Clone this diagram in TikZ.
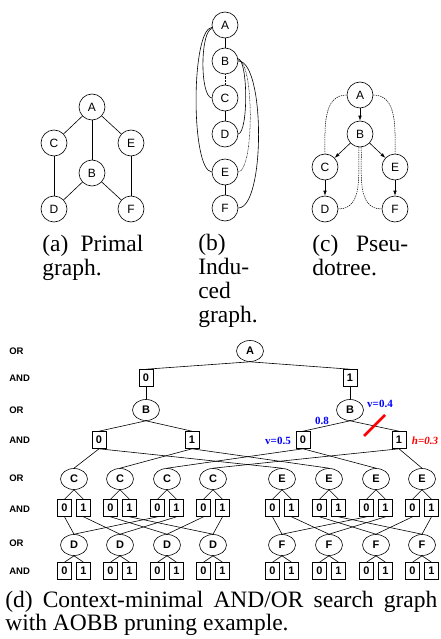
\documentclass[tikz,border=0pt]{standalone}
\usepackage{fontspec}
\setmainfont{Liberation Serif}
\setsansfont{Liberation Sans}
\usetikzlibrary{arrows.meta,shapes.geometric}
\begin{document}
\begin{tikzpicture}[x=1pt,y=-1pt,line width=0.6pt,
  pnode/.style={draw,circle,minimum size=26pt,inner sep=0pt,fill=white,
    font=\sffamily\fontsize{12}{12}\selectfont},
  ornode/.style={draw,ellipse,minimum width=27pt,minimum height=21pt,inner sep=0pt,fill=white,
    font=\sffamily\bfseries\fontsize{11}{11}\selectfont},
  andnode/.style={draw,rectangle,minimum width=14pt,minimum height=17pt,inner sep=0pt,fill=white,
    font=\sffamily\bfseries\fontsize{11}{11}\selectfont},
  lvl/.style={anchor=west,inner sep=0pt,font=\sffamily\bfseries\fontsize{9.5}{9.5}\selectfont},
  captext/.style={anchor=base west,inner sep=0pt,font=\fontsize{23.5}{24}\selectfont},
  treearrow/.style={-{Latex[length=5pt,width=3.5pt]}},
  backedge/.style={dash pattern=on 1.4pt off 0.9pt,line width=0.5pt},
  dotedge/.style={dash pattern=on 0.7pt off 0.7pt,line width=0.5pt},
  vlab/.style={inner sep=0pt,text=blue,font=\bfseries\fontsize{11}{11}\selectfont},
  hlab/.style={inner sep=0pt,text=red,font=\bfseries\itshape\fontsize{11}{11}\selectfont},
]
\useasboundingbox (0,0) rectangle (440,639);

% ---------- (a) primal graph ----------
\node[pnode] (pA) at (92,107) {A};
\node[pnode] (pC) at (54,143) {C};
\node[pnode] (pE) at (131,143) {E};
\node[pnode] (pB) at (92,173) {B};
\node[pnode] (pD) at (54,209) {D};
\node[pnode] (pF) at (131,209) {F};
\draw (pA) -- (pC);
\draw (pA) -- (pE);
\draw (pA) -- (pB);
\draw (pC) -- (pD);
\draw (pB) -- (pD);
\draw (pB) -- (pF);
\draw (pE) -- (pF);
\node[captext] (capa1) at (42,251) {\makebox[101pt][s]{(a) Primal}};
\node[captext] (capa2) at (42,275) {graph.};

% ---------- (b) induced graph ----------
\node[pnode] (iA) at (225,25) {A};
\node[pnode] (iB) at (225,61) {B};
\node[pnode] (iC) at (225,98) {C};
\node[pnode] (iD) at (225,134) {D};
\node[pnode] (iE) at (225,172) {E};
\node[pnode] (iF) at (225,208) {F};
\draw (iA) -- (iB);
\draw[dotedge] (iB) -- (iC);
\draw (iC) -- (iD);
\draw (iE) -- (iF);
\draw (iA.195) .. controls +(-12,2) and +(-12,-2) .. (iC.180);
\draw (iA.190) .. controls +(-21,2) and +(-21,-2) .. (iE.180);
\draw (iB.10) .. controls +(10,2) and +(10,-2) .. (iD.0);
\draw[dotedge] (iB.5) .. controls +(16,2) and +(16,-2) .. (iE.0);
\draw (iB.0) .. controls +(27,0) and +(27,0) .. (iF.0);
\node[captext] (capb1) at (198,250) {(b)};
\node[captext] (capb2) at (198,274) {Indu-};
\node[captext] (capb3) at (198,298) {ced};
\node[captext] (capb4) at (198,322) {graph.};

% ---------- (c) pseudo tree ----------
\node[pnode] (tA) at (360,95) {A};
\node[pnode] (tB) at (360,134) {B};
\node[pnode] (tC) at (325,167) {C};
\node[pnode] (tE) at (395,167) {E};
\node[pnode] (tD) at (325,209) {D};
\node[pnode] (tF) at (395,209) {F};
\draw[treearrow] (tA) -- (tB);
\draw[treearrow] (tB) -- (tC);
\draw[treearrow] (tB) -- (tE);
\draw[treearrow] (tC) -- (tD);
\draw[treearrow] (tE) -- (tF);
\draw[backedge] (tA.west) to[out=180,in=90] (tC.north);
\draw[backedge] (tA.east) to[out=0,in=90] (tE.north);
\draw[backedge] (tB.265) to[out=-92,in=0] (tD.east);
\draw[backedge] (tB.275) to[out=-88,in=180] (tF.west);
\node[captext] (capc1) at (312,251) {\makebox[96pt][s]{(c) Pseu-}};
\node[captext] (capc2) at (312,275) {dotree.};

% ---------- (d) context-minimal AND/OR search graph ----------
\node[lvl] (l1) at (9,351) {OR};
\node[lvl] (l2) at (9,378) {AND};
\node[lvl] (l3) at (9,410) {OR};
\node[lvl] (l4) at (9,440) {AND};
\node[lvl] (l5) at (9,478) {OR};
\node[lvl] (l6) at (9,509) {AND};
\node[lvl] (l7) at (9,543) {OR};
\node[lvl] (l8) at (9,571) {AND};

\node[ornode] (A) at (250,351) {A};
\node[andnode] (a0) at (146,378) {0};
\node[andnode] (a1) at (350,378) {1};
\node[ornode] (B1) at (146,410) {B};
\node[ornode] (B2) at (350,410) {B};
\node[andnode] (b00) at (99,440) {0};
\node[andnode] (b01) at (192,440) {1};
\node[andnode] (b10) at (303,440) {0};
\node[andnode] (b11) at (399,440) {1};
\draw (A.south) -- (a0.north);
\draw (A.south) -- (a1.north);
\draw (a0) -- (B1);
\draw (a1) -- (B2);
\draw (B1.south) -- (b00.north);
\draw (B1.south) -- (b01.north);
\draw (B2.south) -- (b10.north);
\draw (B2.south) -- (b11.north);

% OR nodes C, D (left) and E, F (right) with their AND children
\foreach \i/\x in {1/74,2/120,3/167,4/213}{
  \node[ornode] (C\i) at (\x,479) {C};
  \node[andnode] (C\i z) at (\x-9.5,508) {0};
  \node[andnode] (C\i o) at (\x+9.5,508) {1};
  \draw (C\i.south) -- (C\i z.north);
  \draw (C\i.south) -- (C\i o.north);
  \node[ornode] (D\i) at (\x,545) {D};
  \node[andnode] (D\i z) at (\x-9.5,571) {0};
  \node[andnode] (D\i o) at (\x+9.5,571) {1};
  \draw (D\i.south) -- (D\i z.north);
  \draw (D\i.south) -- (D\i o.north);
}
\foreach \i/\x in {1/282,2/329,3/376,4/422}{
  \node[ornode] (E\i) at (\x,479) {E};
  \node[andnode] (E\i z) at (\x-9.5,508) {0};
  \node[andnode] (E\i o) at (\x+9.5,508) {1};
  \draw (E\i.south) -- (E\i z.north);
  \draw (E\i.south) -- (E\i o.north);
  \node[ornode] (F\i) at (\x,545) {F};
  \node[andnode] (F\i z) at (\x-9.5,571) {0};
  \node[andnode] (F\i o) at (\x+9.5,571) {1};
  \draw (F\i.south) -- (F\i z.north);
  \draw (F\i.south) -- (F\i o.north);
}

% B assignments to C and E (context A,B)
\draw (b00.south) -- (C1.north);
\draw (b00.south) -- (E1.north);
\draw (b01.south) -- (C2.north);
\draw (b01.south) -- (E2.north);
\draw (b10.south) -- (C3.north);
\draw (b10.south) -- (E3.north);
\draw (b11.south) -- (C4.north);
\draw (b11.south) -- (E4.north);

% C assignments to D and E assignments to F (contexts B,C and B,E)
\foreach \p/\q in {C/D,E/F}{
  \draw (\p1z.south) -- (\q1.north);
  \draw (\p1o.south) -- (\q2.north);
  \draw (\p2z.south) -- (\q3.north);
  \draw (\p2o.south) -- (\q4.north);
  \draw (\p3z.south) -- (\q1.north);
  \draw (\p3o.south) -- (\q2.north);
  \draw (\p4z.south) -- (\q3.north);
  \draw (\p4o.south) -- (\q4.north);
}

% pruning annotations
\node[vlab] (v4) at (380,404) {v=0.4};
\node[vlab] (w8) at (322,421) {0.8};
\node[vlab] (v5) at (278,441) {v=0.5};
\node[hlab] (h3) at (425,441) {h=0.3};
\coordinate (cut1) at (364,436);
\coordinate (cut2) at (385,415);
\draw[red,line width=2.5pt] (cut1) -- (cut2);

\node[captext] (capd1) at (5,607) {\makebox[432pt][s]{(d) Context-minimal AND/OR search graph}};
\node[captext] (capd2) at (5,630) {with AOBB pruning example.};
\end{tikzpicture}
\end{document}
